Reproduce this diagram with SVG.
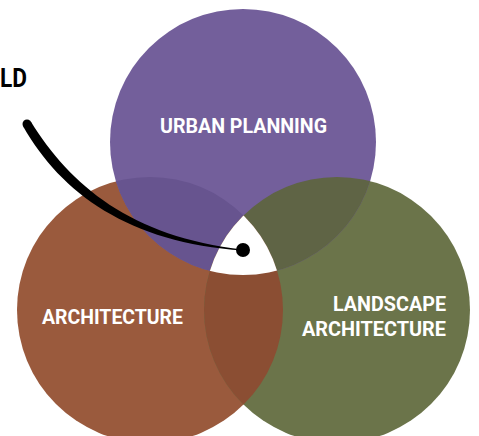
<svg xmlns="http://www.w3.org/2000/svg" width="479" height="436" viewBox="0 0 479 436">
  <style>
    .lbl { font-family: Roboto, "Liberation Sans", sans-serif; font-weight: 700; font-size: 21px; fill: #ffffff; }
    .note { font-family: Roboto, "Liberation Sans", sans-serif; font-weight: 700; font-size: 25px; fill: #000000; }
  </style>
  <defs>
    <clipPath id="cp-purple"><circle cx="243" cy="142" r="133"/></clipPath>
    <clipPath id="cp-brown"><circle cx="150" cy="310" r="133"/></clipPath>
    <clipPath id="cp-green"><circle cx="337" cy="310" r="133"/></clipPath>
  </defs>
  <rect width="479" height="436" fill="#ffffff"/>

  <g id="architecture">
    <circle cx="150" cy="310" r="133" fill="#9a5a3d"/>
  </g>
  <g id="landscape-architecture">
    <circle cx="337" cy="310" r="133" fill="#6b744a"/>
  </g>
  <g id="urban-planning">
    <circle cx="243" cy="142" r="133" fill="#735f9b"/>
  </g>

  <g id="overlaps">
    <circle cx="150" cy="310" r="133" fill="#67548f" clip-path="url(#cp-purple)"/>
    <circle cx="337" cy="310" r="133" fill="#5f6445" clip-path="url(#cp-purple)"/>
    <circle cx="337" cy="310" r="133" fill="#8b4e33" clip-path="url(#cp-brown)"/>
    <g clip-path="url(#cp-green)">
      <circle cx="243" cy="142" r="133" fill="#ffffff" clip-path="url(#cp-brown)"/>
    </g>
  </g>

  <g id="labels">
    <text class="lbl" x="243.5" y="133" text-anchor="middle" textLength="167" lengthAdjust="spacingAndGlyphs">URBAN PLANNING</text>
    <text class="lbl" x="112.5" y="324" text-anchor="middle" textLength="141" lengthAdjust="spacingAndGlyphs">ARCHITECTURE</text>
    <text class="lbl" x="446" y="311" text-anchor="end" textLength="113" lengthAdjust="spacingAndGlyphs">LANDSCAPE</text>
    <text class="lbl" x="446" y="336" text-anchor="end" textLength="144" lengthAdjust="spacingAndGlyphs">ARCHITECTURE</text>
  </g>

  <g id="callout">
    <text class="note" x="0" y="87" textLength="27" lengthAdjust="spacingAndGlyphs">LD</text>
  </g>

  <g id="connectors">
    <path d="M30.8,121.5 C70,185 131,237 243,249.5 L243,250.5 C129,243 61,193 23.2,126.5 Z" fill="#000000"/>
    <circle cx="27" cy="124" r="4.5" fill="#000000"/>
    <circle cx="243" cy="250" r="7" fill="#000000"/>
  </g>
</svg>
